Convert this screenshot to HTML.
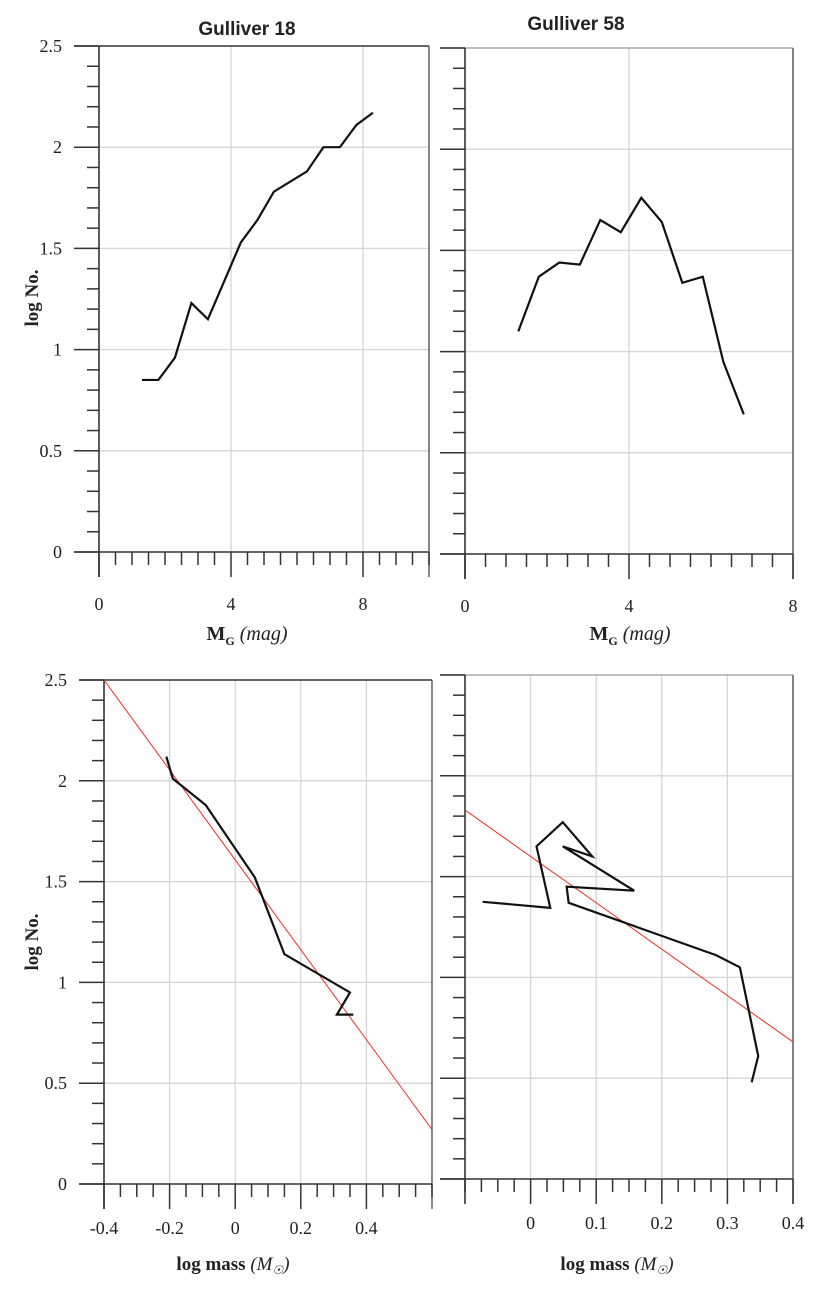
<!DOCTYPE html>
<html><head><meta charset="utf-8">
<style>
body{margin:0;background:#fff;}
svg{display:block;}
text{font-family:"Liberation Serif",serif;fill:#222;}
</style></head>
<body>
<svg id="fig" width="837" height="1296" viewBox="0 0 837 1296" xmlns="http://www.w3.org/2000/svg">
<text x="247" y="35" text-anchor="middle" font-weight="bold" font-size="19" style="font-family:'Liberation Sans',sans-serif">Gulliver 18</text>
<text x="576" y="30" text-anchor="middle" font-weight="bold" font-size="19" style="font-family:'Liberation Sans',sans-serif">Gulliver 58</text>
<text transform="translate(38,298) rotate(-90)" text-anchor="middle" font-weight="bold" font-size="19">log No.</text>
<text transform="translate(38,942) rotate(-90)" text-anchor="middle" font-weight="bold" font-size="19">log No.</text>
<text x="247" y="640" text-anchor="middle" font-weight="bold" font-size="20">M<tspan font-size="12" dy="5">G</tspan><tspan dy="-5" font-weight="normal" font-style="italic"> (mag)</tspan></text>
<text x="630" y="640" text-anchor="middle" font-weight="bold" font-size="20">M<tspan font-size="12" dy="5">G</tspan><tspan dy="-5" font-weight="normal" font-style="italic"> (mag)</tspan></text>
<text x="233" y="1270" text-anchor="middle" font-weight="bold" font-size="19">log mass <tspan font-weight="normal" font-style="italic">(M<tspan font-size="12" dy="4">☉</tspan><tspan dy="-4">)</tspan></tspan></text>
<text x="617" y="1270" text-anchor="middle" font-weight="bold" font-size="19">log mass <tspan font-weight="normal" font-style="italic">(M<tspan font-size="12" dy="4">☉</tspan><tspan dy="-4">)</tspan></tspan></text>
</svg>
<script>
// ---- data ----
const g18MagX = [1.3,1.8,2.3,2.8,3.3,3.8,4.3,4.8,5.3,5.8,6.3,6.8,7.3,7.8,8.3];
const g18LogN = [0.85,0.85,0.96,1.23,1.15,1.34,1.53,1.64,1.78,1.83,1.88,2.0,2.0,2.11,2.17];
const g58MagX = [1.3,1.8,2.3,2.8,3.3,3.8,4.3,4.8,5.3,5.8,6.3,6.8];
const g58LogN = [1.10,1.37,1.44,1.43,1.65,1.59,1.76,1.64,1.34,1.37,0.95,0.69];
const g18MassX = [-0.21,-0.19,-0.09,0.06,0.15,0.35,0.31,0.36];
const g18MassN = [2.12,2.01,1.88,1.52,1.14,0.95,0.84,0.84];
const g18FitX = [-0.4,0.6];
const g18FitN = [2.5,0.27];
const g58MassX = [-0.073,0.030,0.009,0.049,0.094,0.049,0.158,0.055,0.058,0.283,0.319,0.347,0.337];
const g58MassN = [1.375,1.345,1.65,1.77,1.60,1.65,1.43,1.45,1.37,1.11,1.05,0.61,0.48];
const g58FitX = [-0.1,0.4];
const g58FitN = [1.83,0.68];
const yTicks = [0,0.5,1,1.5,2,2.5];
const yTickLabels = ["0","0.5","1","1.5","2","2.5"];
const magTicks = [0,4,8];
const magTickLabels = ["0","4","8"];
const massTicksL = [-0.4,-0.2,0,0.2,0.4];
const massTickLabelsL = ["-0.4","-0.2","0","0.2","0.4"];
const massTicksR = [0,0.1,0.2,0.3,0.4];
const massTickLabelsR = ["0","0.1","0.2","0.3","0.4"];

const NS="http://www.w3.org/2000/svg";
const svg=document.getElementById('fig');
function mk(tag,attrs,parent){const e=document.createElementNS(NS,tag);for(const k in attrs)e.setAttribute(k,attrs[k]);(parent||svg).appendChild(e);return e;}

function panel(o){
  const g=mk('g',{});
  
  
  const sx=v=>o.x0+(v-o.xmin)/(o.xmax-o.xmin)*(o.x1-o.x0);
  const sy=v=>o.y0-(v-o.ymin)/(o.ymax-o.ymin)*(o.y0-o.y1);
  o.xt.forEach(v=>{if(v!==o.xmin)mk('line',{x1:sx(v),x2:sx(v),y1:o.y1,y2:o.y0,stroke:'#d4d4d4','stroke-width':1.3},g);});
  yTicks.forEach(v=>{if(v!==0&&v!==2.5)mk('line',{x1:o.x0,x2:o.x1,y1:sy(v),y2:sy(v),stroke:'#d4d4d4','stroke-width':1.3},g);});
  mk('line',{x1:o.x0-25,x2:o.x1,y1:o.y1,y2:o.y1,stroke:o.topCol,'stroke-width':1.6},g);
  mk('line',{x1:o.x1,x2:o.x1,y1:o.y1,y2:o.y0+25,stroke:'#555','stroke-width':1.4},g);
  mk('line',{x1:o.x0-25,x2:o.x1,y1:o.y0,y2:o.y0,stroke:'#333','stroke-width':1.6},g);
  mk('line',{x1:o.x0,x2:o.x0,y1:o.y1,y2:o.y0+25,stroke:'#333','stroke-width':1.6},g);
  for(let v=0;v<=2.5001;v+=0.1){const y=sy(v);const maj=Math.abs(v*2-Math.round(v*2))<1e-6;
    mk('line',{x1:o.x0-(maj?25:12),x2:o.x0,y1:y,y2:y,stroke:'#333','stroke-width':1.5},g);}
  const n=Math.round((o.xmax-o.xmin)/o.xminor);
  for(let i=0;i<=n;i++){const v=o.xmin+i*o.xminor;const x=sx(v);
    const maj=o.xt.some(t=>Math.abs(t-v)<1e-6);
    mk('line',{x1:x,x2:x,y1:o.y0,y2:o.y0+(maj?25:13),stroke:'#333','stroke-width':1.5},g);}
  if(o.ylabels){yTicks.forEach((v,i)=>{const t=mk('text',{x:o.x0-37,y:sy(v)+6,'text-anchor':'end','font-size':18},g);t.textContent=yTickLabels[i];});}
  o.xt.forEach((v,i)=>{const t=mk('text',{x:sx(v),y:o.y0+o.lblOff,'text-anchor':'middle','font-size':18},g);t.textContent=o.xl[i];});
  if(o.fitX){const l=mk('polyline',{points:o.fitX.map((v,i)=>sx(v)+','+sy(o.fitN[i])).join(' '),fill:'none',stroke:'#e8312a','stroke-width':1},g);
    
    }
  const p=mk('polyline',{points:o.dx.map((v,i)=>sx(v)+','+sy(o.dy[i])).join(' '),fill:'none',stroke:'#111','stroke-width':2.2,'stroke-linejoin':'miter'},g);
  
  
}
panel({name:'panel-g18-mag',x0:99,x1:429,y0:552,y1:46,xmin:0,xmax:10,ymin:0,ymax:2.5,xt:magTicks,xl:magTickLabels,xminor:0.5,dx:g18MagX,dy:g18LogN,ylabels:true,topCol:'#333',lblOff:58});
panel({name:'panel-g58-mag',x0:465,x1:793,y0:554,y1:48,xmin:0,xmax:8,ymin:0,ymax:2.5,xt:magTicks,xl:magTickLabels,xminor:0.5,dx:g58MagX,dy:g58LogN,ylabels:false,topCol:'#aaa',lblOff:58});
panel({name:'panel-g18-mass',x0:104,x1:432,y0:1184,y1:680,xmin:-0.4,xmax:0.6,ymin:0,ymax:2.5,xt:massTicksL,xl:massTickLabelsL,xminor:0.05,dx:g18MassX,dy:g18MassN,fitX:g18FitX,fitN:g18FitN,ylabels:true,topCol:'#333',lblOff:50});
panel({name:'panel-g58-mass',x0:465,x1:793,y0:1179,y1:675,xmin:-0.1,xmax:0.4,ymin:0,ymax:2.5,xt:massTicksR,xl:massTickLabelsR,xminor:0.025,dx:g58MassX,dy:g58MassN,fitX:g58FitX,fitN:g58FitN,ylabels:false,topCol:'#aaa',lblOff:50});
</script>
</body></html>
